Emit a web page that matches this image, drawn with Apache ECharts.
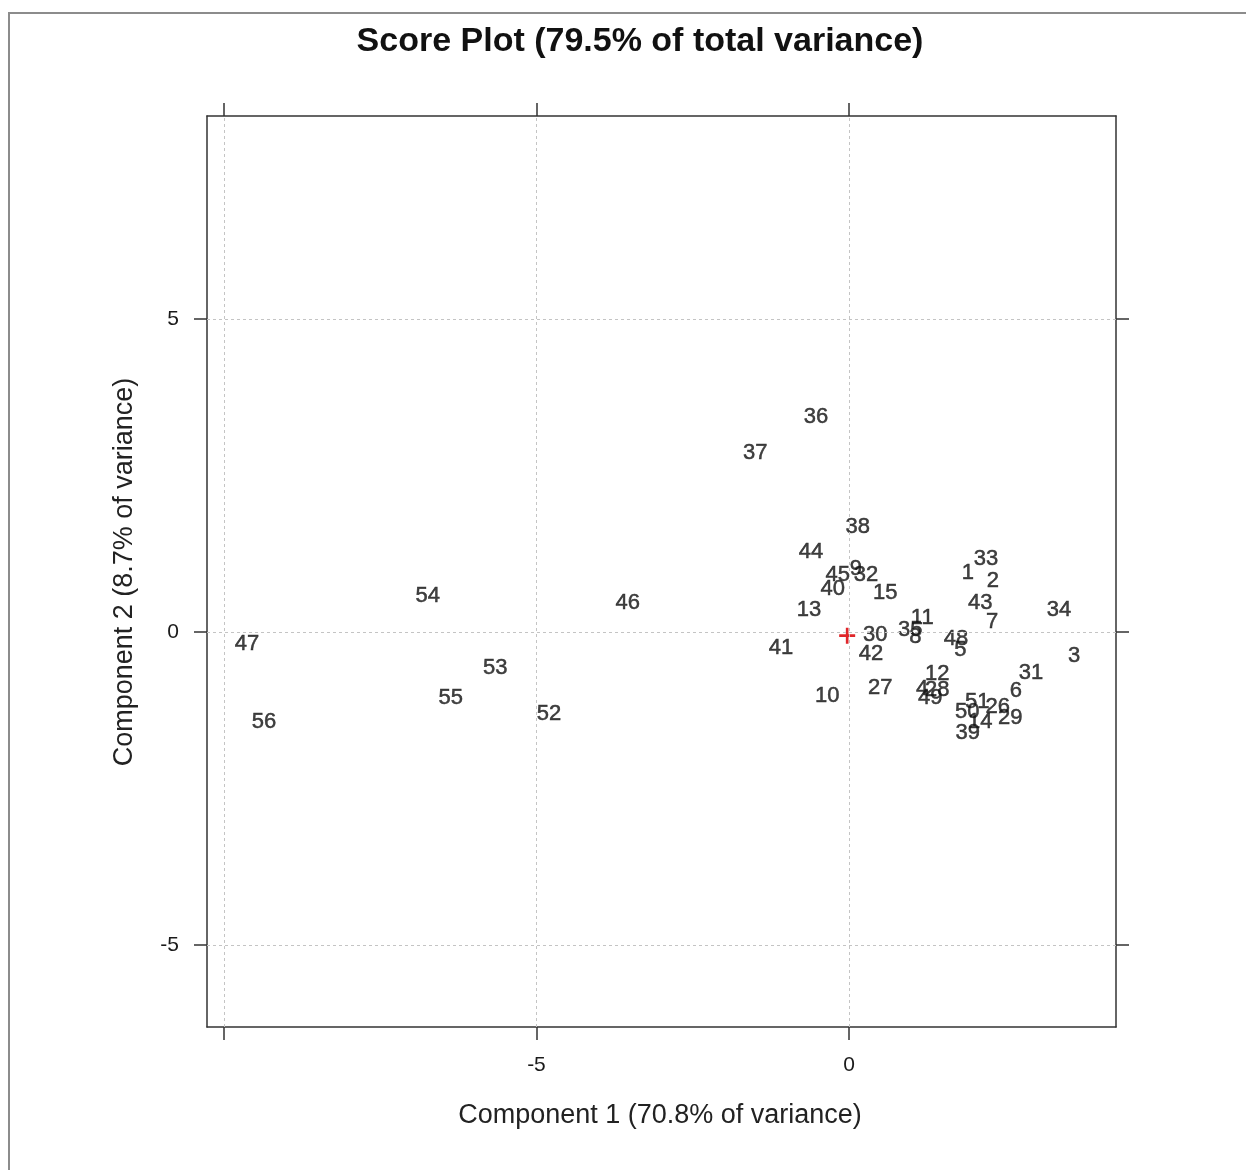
<!DOCTYPE html>
<html>
<head>
<meta charset="utf-8">
<script src="https://cdn.jsdelivr.net/npm/echarts@6/dist/echarts.min.js"></script>
<style>
html,body{margin:0;padding:0;background:#fff;}
#c{width:1246px;height:1170px;}
</style>
</head>
<body>
<div id="c"></div>
<script>
const labels  = ['36','37','38','44','33','1','2','45','9','32','40','15','13','43','7','34','11','35','8','30','42','48','5','3','31','6','12','4','28','49','51','26','50','14','29','39','27','10','41','46','54','47','53','55','52','56'];
const xValues = [-0.53,-1.50,0.14,-0.61,2.19,1.90,2.30,-0.18,0.11,0.27,-0.26,0.58,-0.64,2.10,2.29,3.36,1.17,0.98,1.06,0.42,0.35,1.71,1.78,3.60,2.91,2.67,1.41,1.17,1.41,1.30,2.05,2.38,1.89,2.10,2.58,1.90,0.50,-0.35,-1.09,-3.54,-6.74,-9.63,-5.66,-6.37,-4.80,-9.36];
const yValues = [3.43,2.86,1.68,1.28,1.17,0.94,0.81,0.91,1.00,0.91,0.69,0.62,0.35,0.46,0.16,0.35,0.22,0.03,-0.08,-0.05,-0.35,-0.11,-0.29,-0.38,-0.66,-0.94,-0.67,-0.91,-0.93,-1.05,-1.12,-1.20,-1.28,-1.44,-1.37,-1.61,-0.89,-1.02,-0.26,0.46,0.58,-0.19,-0.58,-1.05,-1.31,-1.44];
const centre = [-0.03, -0.06];
const xTicks = [-10, -5, 0];
const xTickLabels = [-5, 0];
const yTicks = [-5, 0, 5];
const yTickLabels = [-5, 0, 5];
const titleText = 'Score Plot (79.5% of total variance)';
const xTitle = 'Component 1 (70.8% of variance)';
const yTitle = 'Component 2 (8.7% of variance)';

const FONT = '"Liberation Sans", Arial, sans-serif';
const X_MIN = -10.27, X_MAX = 4.27, Y_MIN = -6.31, Y_MAX = 8.24;

const chart = echarts.init(document.getElementById('c'), null, {renderer: 'canvas'});

function axisCommon(ticks, lbls, showLabel) {
  return {
    type: 'value',
    axisLine: {show: true, onZero: false, lineStyle: {color: '#333', width: 1.5}},
    axisTick: {show: true, inside: false, length: 13, customValues: ticks, lineStyle: {color: '#333', width: 1.5}},
    axisLabel: {show: showLabel, customValues: lbls, margin: 28, color: '#1a1a1a', fontSize: 21, fontFamily: FONT},
    splitLine: {show: false}
  };
}

const pts = labels.map((l, i) => ({name: l, value: [xValues[i], yValues[i]]}));
const gridLineStyle = {color: '#c4c4c4', type: [3, 3], width: 1};
const markData = xTicks.map(v => ({xAxis: v})).concat(yTicks.map(v => ({yAxis: v})));

chart.setOption({
  animation: false,
  backgroundColor: '#fff',
  grid: {left: 207, top: 116, width: 909, height: 911, containLabel: false},
  xAxis: [
    Object.assign(axisCommon(xTicks, xTickLabels, true), {position: 'bottom', min: X_MIN, max: X_MAX}),
    Object.assign(axisCommon(xTicks, xTickLabels, false), {position: 'top', min: X_MIN, max: X_MAX})
  ],
  yAxis: [
    Object.assign(axisCommon(yTicks, yTickLabels, true), {position: 'left', min: Y_MIN, max: Y_MAX}),
    Object.assign(axisCommon(yTicks, yTickLabels, false), {position: 'right', min: Y_MIN, max: Y_MAX})
  ],
  series: [
    {
      type: 'scatter',
      xAxisIndex: 0, yAxisIndex: 0,
      symbol: 'circle',
      symbolSize: 2,
      itemStyle: {color: 'rgba(255,255,255,0)'},
      data: pts,
      silent: true,
      label: {
        show: true, position: 'inside', formatter: p => p.name,
        color: '#111', fontSize: 22, fontFamily: FONT,
        textBorderColor: '#111', textBorderWidth: 0.5
      },
      markLine: {
        silent: true, symbol: 'none', label: {show: false},
        lineStyle: gridLineStyle,
        data: markData
      },
      z: 3
    },
    {
      type: 'scatter',
      xAxisIndex: 0, yAxisIndex: 0,
      symbol: 'path://M6.25,0 H8.75 V6.25 H15 V8.75 H8.75 V15 H6.25 V8.75 H0 V6.25 H6.25 Z',
      symbolSize: 16,
      itemStyle: {color: '#e0262a', opacity: 1},
      data: [centre],
      silent: true,
      z: 4
    }
  ],
  graphic: [
    {type: 'rect', shape: {x: 9, y: 13, width: 1400, height: 1400}, style: {fill: 'none', stroke: '#8c8c8c', lineWidth: 2}, silent: true},
    {type: 'text', x: 640, y: 42, style: {text: titleText, font: 'bold 34px ' + FONT, fill: '#111', textAlign: 'center', textVerticalAlign: 'middle'}},
    {type: 'text', x: 660, y: 1116, style: {text: xTitle, font: '27px ' + FONT, fill: '#222', textAlign: 'center', textVerticalAlign: 'middle'}},
    {type: 'text', x: 125, y: 572, rotation: Math.PI / 2, style: {text: yTitle, font: '27px ' + FONT, fill: '#222', textAlign: 'center', textVerticalAlign: 'middle'}}
  ]
});
</script>
</body>
</html>
